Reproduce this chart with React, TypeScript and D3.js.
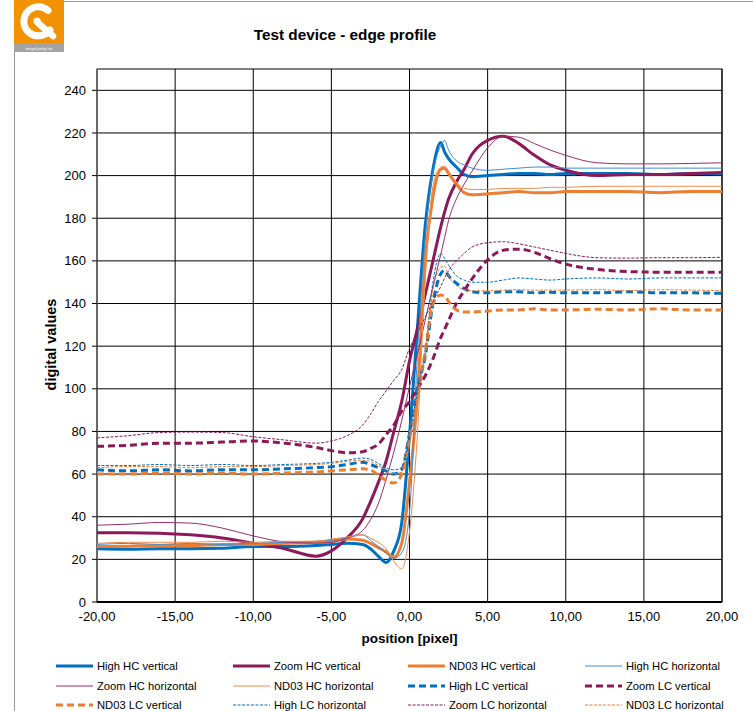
import React from "react";
import * as d3 from "d3";

// ---------- data ----------
const positions = [-20, -18, -16, -14, -12, -10, -8, -6, -5, -4, -3, -2.5, -2, -1.5, -1, -0.5, 0, 0.5, 1, 1.5, 2, 2.25, 2.5, 3, 3.5, 4, 5, 6, 7, 8, 9, 10, 12, 14, 16, 18, 20];

const highHCvertical = [25, 24.8, 25, 25, 25.2, 26, 26, 26.5, 27, 27.5, 27, 25, 21.5, 18.5, 24, 37, 78, 128, 176, 203, 215.5, 211, 208, 204, 200.5, 199.5, 200, 200.5, 201, 201, 200.5, 201, 201, 201, 200.5, 201, 201];
const zoomHCvertical = [32.5, 32.5, 32.3, 31.5, 30, 27.5, 25, 21.5, 24, 30, 39, 47, 56, 66, 80, 94, 113, 128, 144, 160, 176, 183, 189, 197, 203, 210, 216.5, 218.5, 215, 209.5, 205, 202.5, 200, 200.5, 200.5, 201, 201.5];
const nd03HCvertical = [26, 26.2, 26.5, 26.5, 27, 27, 27.5, 28, 28.5, 29.5, 29, 27.5, 25.5, 23.5, 21, 27.5, 56, 96, 160, 190, 203, 203.5, 201, 196, 192, 191, 191.5, 192, 192.5, 192, 192, 192.5, 192.5, 192.5, 192, 192.5, 192.5];
const highHChorizontal = [27, 27.5, 27, 27.5, 27, 27.5, 28, 28.5, 29, 30, 31.5, 29, 26, 23, 20.5, 23, 42, 115, 170, 201, 214, 216.5, 212, 207, 205, 203.5, 202.5, 203, 203.5, 204, 204, 203.5, 203.5, 203.5, 203.5, 203.5, 203.5];
const zoomHChorizontal = [36, 36.5, 37.3, 37, 34.7, 31, 28.2, 27.6, 28, 30, 33.5, 38.5, 46, 57.5, 70.5, 85, 101, 116, 132, 148, 163, 171, 179, 189, 196, 202, 213, 218.5, 218, 215, 212, 209.5, 206, 205.5, 205.5, 205.7, 206];
const nd03HChorizontal = [27.5, 28, 28, 28, 28.5, 28, 28.5, 28.5, 29.5, 30.5, 31.5, 30, 28, 25, 19, 15.5, 33, 78, 150, 195, 204, 204.5, 202, 197, 194, 193.5, 193.5, 194, 194, 194, 194.5, 194.5, 195, 195, 195, 195, 195];
const highLCvertical = [62, 61.5, 62, 61.5, 62, 62, 62.5, 63, 63.5, 64.5, 65.5, 64.5, 63, 61.5, 60, 62, 79, 100, 115, 140, 154, 155.5, 153, 149.5, 147, 145.5, 145, 145.5, 145.5, 145, 145.3, 145, 145, 145.5, 145, 145, 144.8];
const zoomLCvertical = [73, 73.5, 74.5, 74.5, 75, 75.5, 74.5, 72.5, 71, 70, 70.5, 72, 74, 78.5, 83, 89.5, 94, 100, 106, 114, 124, 128, 132, 140, 146, 151.5, 160.5, 165, 165.5, 164, 161, 158.5, 156, 155, 154.7, 154.7, 154.7];
const nd03LCvertical = [60, 60, 60.5, 60, 60.5, 60, 60.5, 61, 61.5, 62, 62.5, 62, 59.5, 57, 55.8, 60, 77, 96, 117, 140, 144, 143.5, 141, 137, 136, 136, 136.5, 137, 137, 137.5, 137, 137, 137.3, 137, 137.5, 137, 137];
const highLChorizontal = [64, 64, 64.5, 64, 64.5, 64, 64.5, 65, 65.5, 66.5, 67.5, 67, 65, 63, 62, 63, 79, 98, 117, 150, 163.5, 161, 158, 153, 151, 150, 150, 151, 152, 151.5, 151, 151.5, 152, 151.5, 152, 152, 152];
const zoomLChorizontal = [77, 78, 79.5, 79.7, 79.5, 77.5, 76, 74.5, 75.5, 78, 83, 88, 94, 99, 104, 109, 119, 126, 133.5, 141, 148, 152, 155.5, 160, 163.5, 166.5, 168.5, 169, 168, 166.5, 165, 163.5, 161.5, 161.3, 161.5, 161.5, 161.7];
const nd03LChorizontal = [63, 63.5, 63.5, 63, 63.5, 63.5, 64, 64.5, 65, 66, 66.5, 66, 64, 62, 60, 61, 74, 95, 117, 146, 157, 157.5, 153, 148.5, 146.5, 146, 146, 146.3, 146.5, 146.3, 146.3, 146.3, 146.5, 146, 146.5, 146.3, 146];

const seriesNames = [
  "High HC vertical", "Zoom HC vertical", "ND03 HC vertical", "High HC horizontal",
  "Zoom HC horizontal", "ND03 HC horizontal", "High LC vertical", "Zoom LC vertical",
  "ND03 LC vertical", "High LC horizontal", "Zoom LC horizontal", "ND03 LC horizontal",
];
const seriesValues = [
  highHCvertical, zoomHCvertical, nd03HCvertical, highHChorizontal,
  zoomHChorizontal, nd03HChorizontal, highLCvertical, zoomLCvertical,
  nd03LCvertical, highLChorizontal, zoomLChorizontal, nd03LChorizontal,
];
const yTicks = [0, 20, 40, 60, 80, 100, 120, 140, 160, 180, 200, 220, 240];
const xTicks = [-20, -15, -10, -5, 0, 5, 10, 15, 20];

// ---------- styles ----------
const BLUE = "#0070C0";
const BLUE_T = "#3D8ED3";
const PURP = "#8C1A5B";
const PURP_T = "#982E6A";
const ORNG = "#ED7D31";
const ORNG_T = "#F08C4A";
const styles = [
  { c: BLUE, w: 3, d: "" },
  { c: PURP, w: 3, d: "" },
  { c: ORNG, w: 3, d: "" },
  { c: BLUE_T, w: 1, d: "" },
  { c: PURP_T, w: 1, d: "" },
  { c: ORNG_T, w: 1, d: "" },
  { c: BLUE, w: 3, d: "7,4" },
  { c: PURP, w: 3, d: "7,4" },
  { c: ORNG, w: 3, d: "7,4" },
  { c: BLUE, w: 1, d: "3,1.5" },
  { c: PURP, w: 1, d: "3,1.5" },
  { c: ORNG, w: 1, d: "3,1.5" },
];

const W = 753;
const H = 711;
const L = 97, R = 722, T = 69, B = 602;

export default function App() {
  const x = d3.scaleLinear().domain([-20, 20]).range([L, R]);
  const y = d3.scaleLinear().domain([0, 250]).range([B, T]);
  const line = d3
    .line<[number, number]>()
    .x((d) => x(d[0]))
    .y((d) => y(d[1]))
    .curve(d3.curveMonotoneX);

  const fmt = (v: number) => v.toFixed(2).replace(".", ",");
  const legendCols = [56, 233, 408, 585];
  const legendRows = [666, 686, 705];

  return (
    <div style={{ position: "absolute", left: 0, top: 0 }}>
      <svg width={W} height={H} style={{ display: "block", background: "#fff" }} fontFamily="'Liberation Sans', Arial, sans-serif">
        {/* frame */}
        <line x1={14.5} y1={50} x2={14.5} y2={H} stroke="#9a9a9a" strokeWidth={1} />
        <line x1={63} y1={1.5} x2={W} y2={1.5} stroke="#9a9a9a" strokeWidth={1} />
        {/* logo */}
        <g>
          <rect x={14} y={0} width={50} height={43} fill="#F39200" />
          <rect x={14} y={43} width={50} height={9} fill="#A3A3A3" />
          <text x={39} y={49.5} fontSize={3.6} fill="#fff" textAnchor="middle">imageQuality lab</text>
          <path d="M 50 30 A 14.5 14.5 0 1 1 48 10.5" fill="none" stroke="#fff" strokeWidth={7} strokeLinecap="round" />
          <line x1={38} y1={23} x2={53} y2={36} stroke="#fff" strokeWidth={6.5} strokeLinecap="round" />
          <circle cx={37} cy={21} r={3.6} fill="#fff" />
        </g>
        {/* title */}
        <text x={345} y={40} fontSize={15.3} fontWeight="bold" textAnchor="middle">Test device - edge profile</text>

        {/* grid */}
        {yTicks.map((t) => (
          <line key={"gy" + t} x1={L} x2={R} y1={y(t)} y2={y(t)} stroke="#000" strokeWidth={1} />
        ))}
        {xTicks.map((t) => (
          <line key={"gx" + t} x1={x(t)} x2={x(t)} y1={T} y2={B} stroke="#000" strokeWidth={1} />
        ))}
        <rect x={L} y={T} width={R - L} height={B - T} fill="none" stroke="#000" strokeWidth={1} />
        <line x1={L} x2={L} y1={T} y2={B} stroke="#777" strokeWidth={1.5} />

        {/* series */}
        {seriesValues.map((vals, i) => {
          const pts = positions.map((p, k) => [p, vals[k]] as [number, number]);
          const s = styles[i];
          return (
            <path
              key={seriesNames[i]}
              d={line(pts) || ""}
              fill="none"
              stroke={s.c}
              strokeWidth={s.w}
              strokeDasharray={s.d || undefined}
              strokeLinejoin="round"
            />
          );
        })}

        {/* axes */}
        <line x1={L} x2={R} y1={B} y2={B} stroke="#000" strokeWidth={2} />
        {yTicks.map((t) => (
          <g key={"ty" + t}>
            <line x1={L - 5} x2={L} y1={y(t)} y2={y(t)} stroke="#000" strokeWidth={1} />
            <text x={L - 11} y={y(t)} dy="0.35em" fontSize={13} textAnchor="end">{t}</text>
          </g>
        ))}
        {xTicks.map((t) => (
          <text key={"tx" + t} x={x(t)} y={621} fontSize={13} textAnchor="middle">{fmt(t)}</text>
        ))}
        <text x={409.5} y={643} fontSize={13.5} fontWeight="bold" textAnchor="middle">position [pixel]</text>
        <text transform={`translate(56, ${(T + B) / 2 + 9}) rotate(-90)`} fontSize={14.5} fontWeight="bold" textAnchor="middle">digital values</text>

        {/* legend */}
        {seriesNames.map((n, i) => {
          const col = i % 4;
          const row = Math.floor(i / 4);
          const lx = legendCols[col];
          const ly = legendRows[row];
          const s = styles[i];
          return (
            <g key={"lg" + n}>
              <line x1={lx} x2={lx + 37} y1={ly} y2={ly} stroke={s.c} strokeWidth={s.w} strokeDasharray={s.d || undefined} />
              <text x={lx + 41} y={ly} dy="0.35em" fontSize={11.2}>{n}</text>
            </g>
          );
        })}
      </svg>
    </div>
  );
}
